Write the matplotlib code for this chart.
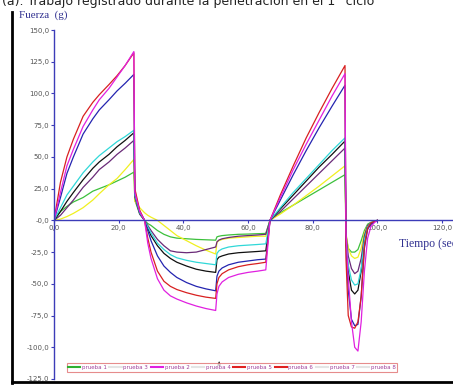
import matplotlib
matplotlib.use('Agg')
import matplotlib.pyplot as plt
from matplotlib.lines import Line2D
from matplotlib.ticker import FuncFormatter

# tiempo (s) comun para todas las curvas
t = [0, 2, 4, 6, 9, 12, 14, 17, 19.5, 22, 24.7,
     25.0, 26.5, 28, 29, 30, 32, 34, 36, 38, 41, 44, 47, 50,
     50.4, 51, 52, 54, 57, 60, 63, 65.5,
     66.8, 70, 74, 78, 82, 86, 90,
     90.3, 91, 92, 93, 94, 95, 96, 97, 98, 99, 100]

# fuerza (g) de cada curva
green = [0, 7, 11, 14.5, 18, 23, 25, 28, 31, 34, 38,
         16, 5, 0, -2.5, -4, -8, -11, -13, -14, -14.5, -15, -15.3, -15.6,
         -13, -12.5, -12, -11.5, -11, -10.8, -10.5, -10.3,
         0, 6, 12, 18, 24, 30, 36,
         -12, -22, -25, -25, -23, -16, -8, -3, -1.5, -1, 0]
yellow = [0, 1, 3, 5.5, 10, 16, 21, 28, 33, 40, 48,
          15, 10, 6, 4, 2.5, 0, -4, -8, -12, -16, -20, -23.5, -26.5,
          -17, -16, -15, -14, -13.5, -13, -12.5, -12.5,
          0, 5, 12, 19.5, 27, 35, 43,
          -10, -22, -28, -30, -29, -22, -10, -4, -2, -1, 0]
purple = [0, 4, 10, 16, 26, 34, 40, 46, 52, 57, 63,
          18, 5, 0, -4, -8, -15, -20, -24, -25, -25.5, -25, -23, -21,
          -17, -15.5, -14.5, -13.5, -12.5, -12, -11.5, -11,
          0, 7, 17, 27, 37, 47, 57,
          -10, -28, -38, -42, -40, -30, -12, -4, -2, -1, 0]
black = [0, 7, 15, 22, 32, 41, 46, 52, 58, 63, 69,
         20, 6, 0, -6, -12, -20, -26, -30, -33, -36, -38.5, -40, -41,
         -31, -29, -28, -26.5, -25.5, -25, -24.5, -24,
         0, 9, 20, 31, 42, 52, 62.5,
         -15, -40, -55, -58, -55, -40, -15, -5, -3, -1, 0]
cyan = [0, 10, 20, 27, 37.5, 46, 51, 57, 62, 66, 71,
        20, 6, 0, -5, -10, -18, -23, -27, -29.5, -31.5, -33, -34, -35,
        -26, -24, -22.5, -21, -20, -19.5, -19, -18.5,
        0, 10, 22, 33, 44, 55, 65,
        -15, -35, -47, -51, -50, -38, -15, -5, -2, -1, 0]
blue = [0, 18, 37, 50, 68, 80, 87, 95, 102, 108, 115,
        22, 7, 0, -8, -16, -28, -36, -41, -45, -49, -52, -54, -55.5,
        -44, -40, -37.5, -35, -33, -32, -31, -30.5,
        0, 16, 36, 55, 73, 90, 106.5,
        -20, -55, -78, -83, -82, -60, -22, -7, -3, -1, 0]
red = [0, 30, 50, 64, 82, 93, 99, 107, 114, 122, 132,
       25, 8, 0, -14, -25, -40, -48, -52, -54.5, -57, -59, -60.5, -61.5,
       -50, -45, -42, -39, -36.5, -35, -34, -33,
       0, 20, 43, 65, 85, 104, 122,
       -30, -75, -84, -85, -80, -60, -20, -6, -2, -1, 0]
magenta = [0, 22, 43, 56, 74, 87, 95, 104, 113, 122, 133,
           22, 7, 0, -18, -30, -46, -55, -59.5, -62, -65, -67.5, -69.5, -71,
           -58, -52, -48.5, -45, -42.5, -41, -40, -39,
           0, 18, 40, 60, 79, 98, 115.6,
           -10, -45, -80, -100, -103, -80, -40, -14, -5, -2, 0]

x_ticks = [0, 20, 40, 60, 80, 100, 120]
y_ticks = [150, 125, 100, 75, 50, 25, 0, -25, -50, -75, -100, -125]
leyenda = ['prueba 1', 'prueba 3', 'prueba 2', 'prueba 4',
           'prueba 5', 'prueba 6', 'prueba 7', 'prueba 8']
colores_leyenda = ['#30b030', '#e4e4e4', '#e020e0', '#e4e4e4',
                   '#e02020', '#e02020', '#e4e4e4', '#e4e4e4']

W, H = 453, 385
fig = plt.figure(figsize=(W / 100, H / 100), dpi=100)
ax = fig.add_axes([54 / W, 1 - 379 / H, (W - 54) / W, (379 - 30) / H])

series = [(green, '#3cc03c'), (yellow, '#f0f020'), (purple, '#6a2a78'),
          (black, '#101010'), (cyan, '#30d8d8'), (blue, '#2424b0'),
          (red, '#d82020'), (magenta, '#e020e0')]
for vals, c in series:
    ax.plot(t, vals, color=c, lw=0.9)

ax.set_xlim(0, 123.4)
ax.set_ylim(-125, 150)
ax.set_xticks(x_ticks)
ax.set_yticks(y_ticks)

def fmt(v, pos):
    return f"{v:.1f}".replace('.', ',')

def fmt_y(v, pos):
    if v == 0:
        return '-0,0'
    return fmt(v, pos)

ax.xaxis.set_major_formatter(FuncFormatter(fmt))
ax.yaxis.set_major_formatter(FuncFormatter(fmt_y))

axis_col = '#3c3cb8'
for s in ['top', 'right']:
    ax.spines[s].set_visible(False)
ax.spines['bottom'].set_position(('data', 0))
ax.spines['bottom'].set_color(axis_col)
ax.spines['left'].set_color(axis_col)
ax.spines['bottom'].set_linewidth(1)
ax.spines['left'].set_linewidth(1)
ax.tick_params(axis='both', colors=axis_col, labelcolor='#555555',
               labelsize=5, length=2.5, width=0.8, pad=1)

# textos
fig.text(2 / W, 1 - 5 / H, '(a). Trabajo registrado durante la penetración en el 1° ciclo',
         fontsize=9, va='baseline', ha='left', color='#222222')
fig.text(19 / W, 1 - 18 / H, 'Fuerza  (g)', fontsize=8, family='Liberation Serif',
         color='#303090', va='baseline')
fig.text(399 / W, 1 - 247 / H, 'Tiempo (sec)', fontsize=8.5, family='Liberation Serif',
         color='#303090', va='baseline')

# marco
fig.add_artist(Line2D([12 / W, 12 / W], [1 - 383 / H, 1 - 12 / H], color='black',
                      lw=2, transform=fig.transFigure))
fig.add_artist(Line2D([12 / W, 1], [1 - 382 / H, 1 - 382 / H], color='black',
                      lw=2, transform=fig.transFigure))

# leyenda
handles = [Line2D([], [], color=c, lw=1.5) for c in colores_leyenda]
leg = fig.legend(handles, leyenda, loc='center', bbox_to_anchor=(232 / W, 1 - 367.5 / H),
                 ncol=8, fontsize=4, frameon=True, fancybox=False, handlelength=2.2,
                 columnspacing=0.45, handletextpad=0.3, borderpad=0.3)
leg.get_frame().set_edgecolor('#e07070')
leg.get_frame().set_linewidth(0.8)
for txt in leg.get_texts():
    txt.set_color('#a0409a')
fig.text(219 / W, 1 - 364 / H, '▲', fontsize=4, ha='center', va='center', color='black')

fig.savefig('out.png', dpi=100)
